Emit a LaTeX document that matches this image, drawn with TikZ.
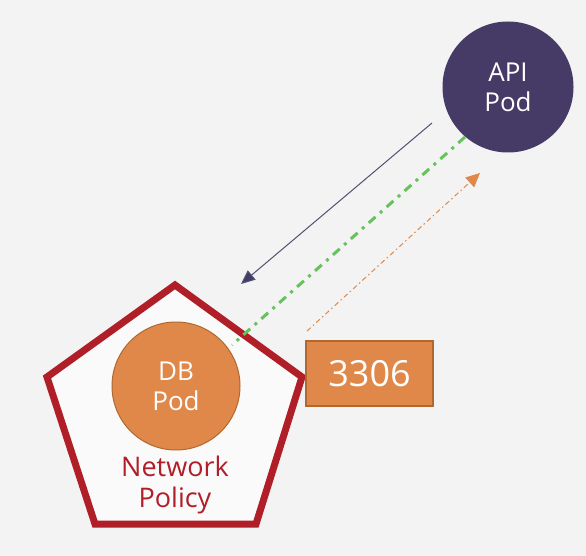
\documentclass[tikz,border=0pt]{standalone}
\usepackage{fontspec}
\setmainfont{Open Sans}
\usetikzlibrary{arrows.meta}
\definecolor{bg}{HTML}{F3F3F3}
\definecolor{polred}{HTML}{B01E28}
\definecolor{dborange}{HTML}{E0884A}
\definecolor{dbedge}{HTML}{B0682F}
\definecolor{apipurple}{HTML}{463A66}
\definecolor{navy}{HTML}{3F3D6B}
\definecolor{linkgreen}{HTML}{66C25A}
\begin{document}
\begin{tikzpicture}[x=1pt,y=-1pt,
  pod/.style={circle, inner sep=0pt, text=white, align=center, font=\fontsize{26}{30}\selectfont},
  portbox/.style={draw=dbedge, line width=1.2pt, fill=dborange, text=white, minimum width=127pt, minimum height=65pt, inner sep=0pt, font=\fontsize{36}{40}\selectfont}]
\fill[bg] (0,0) rectangle (586,556);
\useasboundingbox (0,0) rectangle (586,556);
% network policy pentagon
\coordinate (pt) at (175,285);
\coordinate (pr) at (302,377);
\coordinate (pbr) at (256,524);
\coordinate (pbl) at (95,524);
\coordinate (pl) at (47,377);
\draw[polred, line width=7pt, line join=miter, fill=white!60!bg] (pt) -- (pr) -- (pbr) -- (pbl) -- (pl) -- cycle;
\node[text=polred, align=center, font=\fontsize{27}{31}\selectfont] (np) at (175,485) {Network\\Policy};
% pods
\node[pod, fill=dborange, draw=dbedge, line width=1pt, minimum size=128pt] (db) at (176,386) {DB\\Pod};
\node[pod, fill=apipurple, minimum size=131pt] (api) at (508,87) {API\\Pod};
\node[portbox] (port) at (369.5,373.5) {3306};
% connectors
\coordinate (n1) at (432,123);
\coordinate (n2) at (241,284);
\draw[navy!70!gray, line width=1pt, -{Triangle[length=14pt,width=12pt,fill=navy]}] (n1) -- (n2);
\coordinate (g1) at (465,137);
\coordinate (g2) at (232,345);
\draw[linkgreen, line width=3pt, dash pattern=on 9pt off 6pt on 3pt off 6pt] (g1) -- (g2);
\coordinate (o1) at (307,331);
\coordinate (o2) at (480,173);
\draw[dborange, line width=1pt, dash pattern=on 5pt off 3pt on 1.5pt off 3pt, -{Triangle[length=14pt,width=13pt]}] (o1) -- (o2);
\end{tikzpicture}
\end{document}
